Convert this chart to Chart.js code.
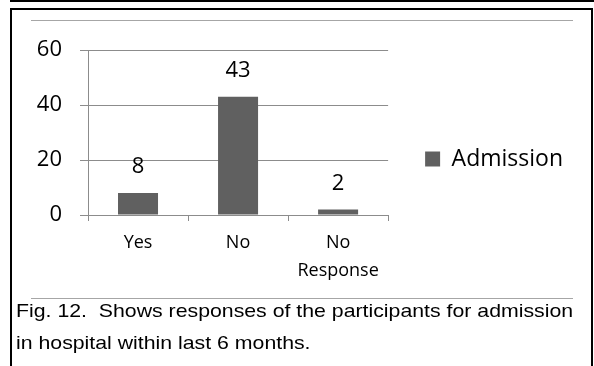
<!DOCTYPE html>
<html>
<head>
<meta charset="utf-8">
<script src="https://cdn.jsdelivr.net/npm/chart.js@4.4.1/dist/chart.umd.min.js"></script>
<style>
  html, body { margin: 0; padding: 0; background: #fff; }
  #page { position: relative; width: 594px; height: 366px; overflow: hidden; background: #fff; }
  .rule-top { position: absolute; left: 10px; top: 0; width: 584px; height: 2px; background: #000; }
  .box { position: absolute; left: 10px; top: 8px; width: 579px; height: 400px; border: 2px solid #000; border-bottom: none; }
  .grey { position: absolute; left: 31px; width: 542px; height: 1.5px; background: #a6a6a6; }
  /* the canvas reaches past the left edge so the right-hand legend gets enough room */
  #wrap { position: absolute; left: -240px; top: 0; width: 834px; height: 300px; }
  .caption { position: absolute; left: 16px; top: 295px; font-family: "Liberation Sans", Arial, sans-serif;
             font-size: 19px; line-height: 32px; color: #000; white-space: nowrap;
             transform: scaleX(1.12); transform-origin: left top; }
</style>
</head>
<body>
<div id="page">
  <div class="rule-top"></div>
  <div class="box"></div>
  <div class="grey" style="top:19.5px"></div>
  <div class="grey" style="top:297.5px"></div>
  <div id="wrap"><canvas id="chart" width="834" height="300"></canvas></div>
  <div class="caption">Fig. 12.&nbsp; Shows responses of the participants for admission<br>in hospital within last 6 months.</div>
</div>
<script>
// Admission responses
const categories = ['Yes', 'No', ['No', 'Response']];
const admission = [8, 43, 2];
const yTicks = [0, 20, 40, 60];
const seriesName = 'Admission';

const FONT = '"Open Sans", sans-serif';
const GRID = '#8c8c8c';
const BAR = '#606060';
const SHIFT = 240; // how far the canvas sits left of the page

// Writes each bar's value above it
const valueLabels = {
  id: 'valueLabels',
  afterDatasetsDraw(chart) {
    const ctx = chart.ctx;
    ctx.save();
    ctx.font = '22px ' + FONT;
    ctx.fillStyle = '#000';
    ctx.textAlign = 'center';
    ctx.textBaseline = 'middle';
    chart.data.datasets.forEach((ds, di) => {
      chart.getDatasetMeta(di).data.forEach((bar, i) => {
        ctx.fillText(String(ds.data[i]), bar.x, bar.y - 26);
      });
    });
    ctx.restore();
  }
};

new Chart(document.getElementById('chart'), {
  type: 'bar',
  data: {
    labels: categories,
    datasets: [{
      label: seriesName,
      data: admission,
      backgroundColor: BAR,
      borderWidth: 0,
      categoryPercentage: 1,
      barPercentage: 0.4
    }]
  },
  options: {
    responsive: false,
    animation: false,
    layout: { padding: { left: 0, right: 21, top: 33, bottom: 15 } },
    plugins: {
      tooltip: { enabled: false },
      // blank top band above the plot only; the legend keeps the full height
      title: { display: true, text: '', fullSize: false, padding: 0, font: { size: 10, lineHeight: '17px' } },
      legend: {
        position: 'right',
        align: 'center',
        labels: {
          boxWidth: 15,
          boxHeight: 15,
          padding: 37,
          color: '#000',
          font: { family: FONT, size: 23 }
        }
      }
    },
    scales: {
      x: {
        offset: true,
        afterFit(scale) { scale.height = 70; },
        grid: { display: true, drawOnChartArea: false, drawTicks: true, tickLength: 6, color: GRID, offset: true },
        border: { display: true, color: GRID, width: 1 },
        ticks: { color: '#000', padding: 8, font: { family: FONT, size: 18, lineHeight: 1.55 } }
      },
      y: {
        min: 0,
        max: 60,
        afterFit(scale) { scale.width = 88 + SHIFT; },
        afterBuildTicks(scale) { scale.ticks = yTicks.map(v => ({ value: v })); },
        grid: { color: GRID, tickLength: 8, drawTicks: true },
        border: { display: true, color: GRID, width: 1 },
        ticks: { color: '#000', padding: 18, font: { family: FONT, size: 22 } }
      }
    }
  },
  plugins: [valueLabels]
});
</script>
</body>
</html>
